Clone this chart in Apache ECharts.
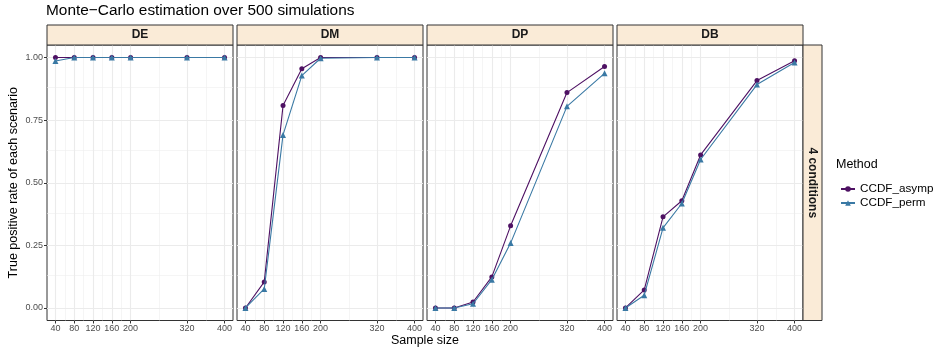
<!DOCTYPE html>
<html><head><meta charset="utf-8">
<script src="https://cdn.jsdelivr.net/npm/echarts@6/dist/echarts.min.js"></script>
<style>html,body{margin:0;padding:0;background:#fff}#c{width:935px;height:349px}</style>
</head><body><div id="c"></div>
<script>
const sampleSizes = [40, 80, 120, 160, 200, 320, 400];
const xMinor = [60, 100, 140, 180, 260, 360];
const yBreaks = [0, 0.25, 0.5, 0.75, 1];
const yMinor = [0.125, 0.375, 0.625, 0.875];
const yLabels = ['0.00', '0.25', '0.50', '0.75', '1.00'];
const scenarios = ['DE', 'DM', 'DP', 'DB'];
const rowLabel = '4 conditions';
const methods = ['CCDF_asymp', 'CCDF_perm'];
const asymp_DE = [1.000, 1.000, 1.000, 1.000, 1.000, 1.000, 1.000];
const perm_DE  = [0.986, 1.000, 1.000, 1.000, 1.000, 1.000, 1.000];
const asymp_DM = [0.000, 0.104, 0.808, 0.955, 1.000, 1.000, 1.000];
const perm_DM  = [0.000, 0.076, 0.691, 0.928, 0.997, 1.000, 1.000];
const asymp_DP = [0.000, 0.000, 0.024, 0.124, 0.328, 0.860, 0.964];
const perm_DP  = [0.000, 0.000, 0.017, 0.113, 0.259, 0.805, 0.937];
const asymp_DB = [0.000, 0.072, 0.364, 0.428, 0.611, 0.908, 0.987];
const perm_DB  = [0.000, 0.051, 0.320, 0.417, 0.593, 0.892, 0.980];

const values = {
  DE: [asymp_DE, perm_DE], DM: [asymp_DM, perm_DM],
  DP: [asymp_DP, perm_DP], DB: [asymp_DB, perm_DB]
};
const colors = ['#4E1163', '#3A79A4'];
const symbols = ['circle', 'triangle'];
const symbolSizes = [5, 6];
const FONT = 'Liberation Sans, Arial, Helvetica, sans-serif';

const panelLeft = [47, 237, 427, 617];
const panelW = 186;
const panelTop = 45;
const panelH = 275.5;

const grids = [], xAxes = [], yAxes = [], series = [], graphics = [];
scenarios.forEach((sc, i) => {
  grids.push({left: panelLeft[i], top: panelTop, width: panelW, height: panelH,
    show: true, borderColor: '#333', borderWidth: 1, backgroundColor: '#fff', containLabel: false});
  xAxes.push({type: 'value', gridIndex: i, min: 22, max: 418, position: 'bottom',
    axisLine: {show: false, onZero: false},
    axisTick: {show: true, length: 3, lineStyle: {color: '#333', width: 1}, customValues: sampleSizes},
    axisLabel: {show: true, customValues: sampleSizes, margin: 4, fontSize: 9, color: '#4D4D4D', fontFamily: FONT},
    splitLine: {show: false}});
  yAxes.push({type: 'value', gridIndex: i, min: -0.05, max: 1.05, position: 'left',
    axisLine: {show: false, onZero: false},
    axisTick: {show: i === 0, length: 3, lineStyle: {color: '#333', width: 1}, customValues: yBreaks},
    axisLabel: {show: i === 0, customValues: yBreaks, margin: 4, fontSize: 9, color: '#4D4D4D', fontFamily: FONT,
      formatter: v => yLabels[yBreaks.indexOf(Math.round(v * 1000) / 1000)] ?? v.toFixed(2)},
    splitLine: {show: false}});
  const ml = [];
  xMinor.forEach(v => ml.push({xAxis: v, lineStyle: {color: '#EEEEEE', width: 0.6, type: 'solid'}}));
  yMinor.forEach(v => ml.push({yAxis: v, lineStyle: {color: '#EEEEEE', width: 0.6, type: 'solid'}}));
  sampleSizes.forEach(v => ml.push({xAxis: v, lineStyle: {color: '#EBEBEB', width: 1.1, type: 'solid'}}));
  yBreaks.forEach(v => ml.push({yAxis: v, lineStyle: {color: '#EBEBEB', width: 1.1, type: 'solid'}}));
  series.push({type: 'line', name: '_grid' + i, xAxisIndex: i, yAxisIndex: i, data: [], z: 0,
    silent: true, animation: false,
    markLine: {silent: true, z: 0, symbol: ['none', 'none'], label: {show: false}, animation: false,
      emphasis: {disabled: true}, data: ml}});
  methods.forEach((m, k) => {
    series.push({type: 'line', name: m, xAxisIndex: i, yAxisIndex: i, z: 6 + k,
      data: sampleSizes.map((s, j) => [s, values[sc][k][j]]),
      symbol: symbols[k], symbolSize: symbolSizes[k], showAllSymbol: true,
      lineStyle: {color: colors[k], width: 1.1}, itemStyle: {color: colors[k], borderWidth: 0},
      emphasis: {disabled: true}, animation: false});
  });
  graphics.push({type: 'rect', shape: {x: panelLeft[i], y: 25, width: panelW, height: 20},
    style: {fill: '#FAEBD7', stroke: '#333', lineWidth: 1}, z: 10});
  graphics.push({type: 'text', x: panelLeft[i] + panelW / 2, y: 35,
    style: {text: sc, fontSize: 12, fontWeight: 'bold', fontFamily: FONT, fill: '#1A1A1A', align: 'center', verticalAlign: 'middle'}, z: 11});
});
graphics.push({type: 'rect', shape: {x: panelLeft[3] + panelW, y: panelTop, width: 19, height: panelH},
  style: {fill: '#FAEBD7', stroke: '#333', lineWidth: 1}, z: 10});
graphics.push({type: 'text', x: panelLeft[3] + panelW + 9.5, y: panelTop + panelH / 2, rotation: -Math.PI / 2,
  style: {text: rowLabel, fontSize: 12, fontWeight: 'bold', fontFamily: FONT, fill: '#1A1A1A', align: 'center', verticalAlign: 'middle'}, z: 11});
graphics.push({type: 'text', x: (panelLeft[0] + panelLeft[3] + panelW) / 2, y: 341,
  style: {text: 'Sample size', fontSize: 12.5, fontFamily: FONT, fill: '#000', align: 'center', verticalAlign: 'middle'}});
graphics.push({type: 'text', x: 14, y: panelTop + panelH / 2, rotation: Math.PI / 2,
  style: {text: 'True positive rate of each scenario', fontSize: 12.5, fontFamily: FONT, fill: '#000', align: 'center', verticalAlign: 'middle'}});
graphics.push({type: 'text', x: 836, y: 165,
  style: {text: 'Method', fontSize: 12.5, fontFamily: FONT, fill: '#000', align: 'left', verticalAlign: 'middle'}});

const chart = echarts.init(document.getElementById('c'), null, {renderer: 'canvas'});
chart.setOption({
  animation: false,
  backgroundColor: '#fff',
  title: {text: 'Monte\u2212Carlo estimation over 500 simulations', left: 46, top: 3, padding: 0,
    textStyle: {fontSize: 15.4, fontWeight: 'normal', color: '#000', fontFamily: FONT}},
  legend: {data: methods, orient: 'vertical', left: 835, top: 178, itemWidth: 14, itemHeight: 7, itemGap: 2,
    textStyle: {fontSize: 11.7, color: '#000', fontFamily: FONT}, selectedMode: false},
  grid: grids, xAxis: xAxes, yAxis: yAxes, series: series, graphic: graphics
});
</script></body></html>
